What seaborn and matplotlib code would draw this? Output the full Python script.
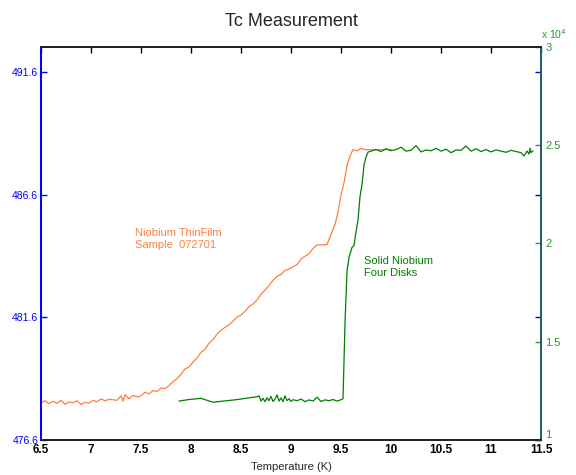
import matplotlib
matplotlib.use("Agg")
import matplotlib.pyplot as plt
import seaborn as sns
import pandas as pd
from matplotlib.ticker import FuncFormatter

# thin film sample (left axis)
film_temp = [6.50, 6.54, 6.58, 6.62, 6.66, 6.70, 6.74, 6.78, 6.82, 6.86, 6.90, 6.94, 6.98,
             7.02, 7.06, 7.10, 7.14, 7.18, 7.22, 7.26, 7.30, 7.32, 7.34, 7.38, 7.42, 7.46,
             7.50, 7.54, 7.58, 7.62, 7.66, 7.70, 7.74, 7.78, 7.82, 7.86, 7.90, 7.94, 7.98,
             8.02, 8.06, 8.10, 8.14, 8.18, 8.22, 8.26, 8.30, 8.34, 8.38, 8.42, 8.46, 8.50,
             8.54, 8.58, 8.62, 8.66, 8.70, 8.74, 8.78, 8.82, 8.86, 8.90, 8.94, 8.98, 9.02,
             9.06, 9.10, 9.14, 9.18, 9.22, 9.26, 9.30, 9.36, 9.40, 9.44, 9.47, 9.50, 9.53,
             9.56, 9.59, 9.62, 9.66, 9.70, 9.75, 9.80, 9.90, 10.00]
film_signal = [478.12, 478.20, 478.08, 478.18, 478.10, 478.22, 478.06, 478.15, 478.12, 478.20,
               478.05, 478.14, 478.10, 478.22, 478.16, 478.28, 478.20, 478.26, 478.24, 478.22,
               478.40, 478.18, 478.45, 478.28, 478.42, 478.36, 478.40, 478.55, 478.48, 478.62,
               478.58, 478.72, 478.70, 478.82, 478.98, 479.10, 479.28, 479.50, 479.58, 479.78,
               479.95, 480.18, 480.30, 480.55, 480.70, 480.92, 481.08, 481.20, 481.30, 481.45,
               481.62, 481.70, 481.85, 482.05, 482.15, 482.32, 482.55, 482.72, 482.90, 483.12,
               483.28, 483.36, 483.52, 483.58, 483.66, 483.76, 483.98, 484.10, 484.20, 484.42,
               484.56, 484.56, 484.58, 485.00, 485.40, 485.90, 486.60, 487.10, 487.80, 488.20,
               488.45, 488.40, 488.50, 488.44, 488.45, 488.45, 488.45]

# solid niobium disks (right axis)
disk_temp = [7.88, 7.98, 8.10, 8.22, 8.34, 8.45, 8.56, 8.66, 8.68, 8.70, 8.72, 8.74, 8.76,
             8.78, 8.80, 8.82, 8.84, 8.86, 8.88, 8.90, 8.92, 8.94, 8.96, 8.98, 9.00, 9.02,
             9.06, 9.10, 9.14, 9.18, 9.22, 9.26, 9.30, 9.34, 9.38, 9.42, 9.46, 9.50, 9.52,
             9.54, 9.56, 9.58, 9.61, 9.63, 9.65, 9.67, 9.69, 9.71, 9.73, 9.75, 9.77, 9.80,
             9.85, 9.90, 9.95, 10.00, 10.05, 10.10, 10.15, 10.20, 10.25, 10.30, 10.35, 10.40,
             10.45, 10.50, 10.55, 10.60, 10.65, 10.70, 10.75, 10.80, 10.85, 10.90, 10.95,
             11.00, 11.05, 11.10, 11.15, 11.20, 11.25, 11.30, 11.33, 11.36, 11.38, 11.39,
             11.40, 11.42]
disk_signal = [11980, 12060, 12120, 11920, 11990, 12050, 12130, 12200, 12250, 11980, 12120,
               11950, 12150, 12000, 12220, 11960, 12080, 12300, 11980, 12140, 11950, 12250,
               12000, 12100, 11960, 12050, 12000, 12080, 11950, 12040, 11980, 12180, 11960,
               12040, 12000, 12060, 11980, 12050, 12100, 16000, 18600, 19300, 19800, 19900,
               20600, 21200, 22400, 23000, 24000, 24400, 24650, 24700, 24780, 24680, 24820,
               24720, 24780, 24900, 24700, 24740, 24980, 24660, 24760, 24720, 24840, 24700,
               24800, 24620, 24760, 24740, 24960, 24700, 24820, 24680, 24780, 24660, 24760,
               24700, 24640, 24740, 24680, 24620, 24450, 24700, 24550, 24850, 24620, 24720]

left_ticks = [476.6, 481.6, 486.6, 491.6]
right_ticks = [10000, 15000, 20000, 25000, 30000]
x_ticks = [6.5, 7, 7.5, 8, 8.5, 9, 9.5, 10, 10.5, 11, 11.5]

ORANGE = "#ff7f3f"
GREEN = "#007f00"
BLUE = "#0000ff"

sns.set_theme(style="white")
plt.rcParams["font.family"] = ["Liberation Sans", "DejaVu Sans"]

film = pd.DataFrame({"temp": film_temp, "signal": film_signal})
disk = pd.DataFrame({"temp": disk_temp, "signal": disk_signal})

fig = plt.figure(figsize=(5.76, 4.75), dpi=100)
ax1 = fig.add_axes([0.0712, 0.0737, 0.8681, 0.8274])
ax2 = ax1.twinx()

sns.lineplot(data=film, x="temp", y="signal", ax=ax1, color=ORANGE, lw=0.9,
             sort=False, estimator=None)
sns.lineplot(data=disk, x="temp", y="signal", ax=ax2, color=GREEN, lw=0.9,
             sort=False, estimator=None)

ax1.set_xlim(6.5, 11.5)
ax1.set_ylim(476.6, 492.64)
ax2.set_ylim(10000, 30000)

ax1.set_xticks(x_ticks)
ax1.set_xticklabels([f"{t:g}" for t in x_ticks], fontweight="bold", fontsize=8.5)
ax1.set_yticks(left_ticks)
ax1.set_yticklabels([f"{t:.1f}" for t in left_ticks], color=BLUE, fontsize=7.5)
ax2.set_yticks(right_ticks)
ax2.yaxis.set_major_formatter(FuncFormatter(lambda v, p: f"{v / 1e4:g}"))

ax1.tick_params(axis="x", direction="in", length=4, width=1, top=True, pad=3, colors="black")
ax1.tick_params(axis="y", direction="in", length=4, width=1, right=True, pad=2, colors=BLUE)
ax2.tick_params(axis="y", direction="in", length=4, width=1, pad=3, colors="#2a9a2a",
                labelsize=8)
ax2.get_yticklabels()[0].set_va("bottom")

ax1.set_xlabel("Temperature (K)", fontsize=8, labelpad=4)
ax1.set_ylabel("")
ax2.set_ylabel("")
ax1.set_title("Tc Measurement", fontsize=13, pad=15)

for ax in (ax1, ax2):
    ax.spines["top"].set_color("#222222")
    ax.spines["bottom"].set_color("#222222")
    for s in ax.spines.values():
        s.set_linewidth(1.3)
ax1.spines["left"].set_color(BLUE)
ax2.spines["left"].set_color(BLUE)
ax2.spines["right"].set_color("#1d5f6e")
ax1.spines["right"].set_color("#1d5f6e")

ax2.annotate("x 10$^{4}$", xy=(1.0, 1.0), xycoords="axes fraction", xytext=(0, 4),
             textcoords="offset points", color="#2a9a2a", fontsize=7.5, ha="left",
             va="bottom")

ax1.text(7.44, 485.25, "Niobium ThinFilm\nSample  072701", color=ORANGE, fontsize=8,
         va="top", linespacing=1.25)
ax2.text(9.73, 19350, "Solid Niobium\nFour Disks", color=GREEN, fontsize=8,
         va="top", linespacing=1.25)

fig.savefig("out.png", dpi=100)
